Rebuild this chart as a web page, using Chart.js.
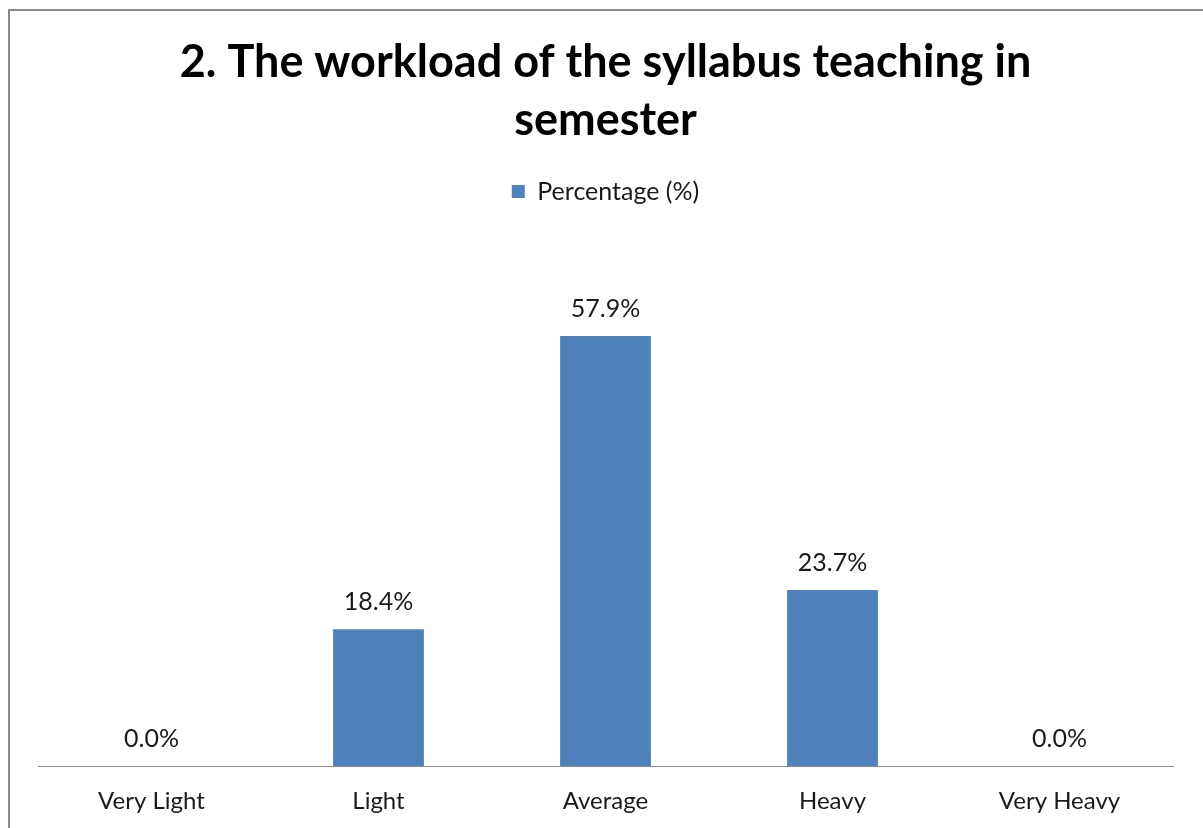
<!DOCTYPE html>
<html>
<head>
<meta charset="utf-8">
<script src="https://cdn.jsdelivr.net/npm/chart.js@4"></script>
<style>
  html, body { margin: 0; padding: 0; background: #fff; overflow: hidden; }
  #frame { position: absolute; left: 8px; top: 9px; width: 1220px; height: 840px; border: 2px solid #898989; }
  #wrap { position: absolute; left: 0; top: 0; width: 1203px; height: 828px; }
</style>
</head>
<body>
<div id="frame"></div>
<div id="wrap"><canvas id="chart"></canvas></div>
<script>
const categories = ["Very Light", "Light", "Average", "Heavy", "Very Heavy"];
const percentages = [0.0, 18.4, 57.9, 23.7, 0.0];
const seriesName = "Percentage (%)";
const titleLines = ["2. The workload of the syllabus teaching in", "semester"];

const FONT = "Lato, 'Noto Sans', sans-serif";

// draws the value above each bar
const valueLabels = {
  id: "valueLabels",
  afterDatasetsDraw(chart) {
    const ctx = chart.ctx;
    const meta = chart.getDatasetMeta(0);
    ctx.save();
    ctx.font = "25px " + FONT;
    ctx.fillStyle = "#1a1a1a";
    ctx.textAlign = "center";
    ctx.textBaseline = "middle";
    meta.data.forEach((bar, i) => {
      ctx.fillText(percentages[i].toFixed(1) + "%", bar.x, bar.y - 27);
    });
    ctx.restore();
  }
};

new Chart(document.getElementById("chart"), {
  type: "bar",
  data: {
    labels: categories,
    datasets: [{
      label: seriesName,
      data: percentages,
      backgroundColor: "#4F81BD",
      borderWidth: 0,
      categoryPercentage: 0.4,
      barPercentage: 1.0
    }]
  },
  options: {
    responsive: true,
    maintainAspectRatio: false,
    animation: false,
    layout: { padding: { left: 38, right: 30, top: 0, bottom: 0 } },
    scales: {
      x: {
        grid: { display: false, drawTicks: false },
        border: { display: true, color: "#8c8c8c", width: 1 },
        ticks: { color: "#1a1a1a", font: { family: FONT, size: 24 }, padding: 21 },
        afterFit: (scale) => { scale.height = 62; }
      },
      y: {
        display: false,
        min: 0,
        max: 70
      }
    },
    plugins: {
      title: {
        display: true,
        text: titleLines,
        color: "#000",
        font: { family: FONT, size: 45, weight: "bold", lineHeight: 58 / 45 },
        padding: { top: 33, bottom: 20 }
      },
      // empty spacer between legend and plot area
      subtitle: {
        display: true,
        text: "",
        weight: 500,
        font: { size: 1, lineHeight: 1 },
        padding: { top: 0, bottom: 31 }
      },
      legend: {
        display: true,
        labels: {
          color: "#1a1a1a",
          font: { family: FONT, size: 25 },
          boxWidth: 13,
          boxHeight: 13,
          padding: 10
        }
      },
      tooltip: { enabled: false }
    }
  },
  plugins: [valueLabels]
});
</script>
</body>
</html>
